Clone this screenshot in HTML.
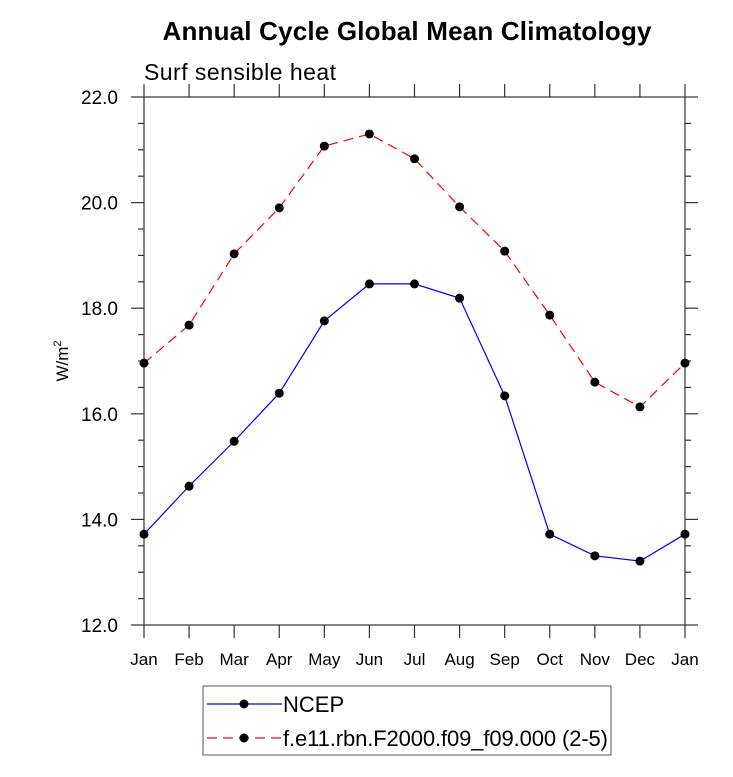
<!DOCTYPE html>
<html><head><meta charset="utf-8"><style>
body{margin:0;background:#fff;}
svg{display:block;font-family:"Liberation Sans",Arial,sans-serif;}
</style></head><body>
<svg id="chart" width="733" height="777" viewBox="0 0 733 777">
<text x="407" y="40" text-anchor="middle" font-size="26" font-weight="bold" textLength="489">Annual Cycle Global Mean Climatology</text>
<text x="144" y="80" font-size="23" textLength="192">Surf sensible heat</text>
<text transform="translate(68,361) rotate(-90)" text-anchor="middle" font-size="17">W/m<tspan font-size="11" dy="-7">2</tspan></text>
<g id="axes"></g>
<g id="series"></g>
<g>
<rect x="203" y="686" width="408" height="69" fill="none" stroke="#555" stroke-width="1"/>
<line x1="207" y1="704" x2="282" y2="704" stroke="#0000ff" stroke-width="1.2"/>
<circle cx="244" cy="704" r="4.5" fill="#000"/>
<text x="283" y="712" font-size="22">NCEP</text>
<line x1="207" y1="738" x2="282" y2="738" stroke="#ff0000" stroke-width="1.2" stroke-dasharray="10,6"/>
<circle cx="244" cy="738" r="4.5" fill="#000"/>
<text x="283" y="746" font-size="22" textLength="325">f.e11.rbn.F2000.f09_f09.000 (2-5)</text>
</g>
</svg>
<script>
const months = ["Jan","Feb","Mar","Apr","May","Jun","Jul","Aug","Sep","Oct","Nov","Dec","Jan"];
const ncep = [13.72,14.63,15.48,16.39,17.76,18.46,18.46,18.19,16.34,13.72,13.31,13.21,13.72];
const model = [16.96,17.68,19.03,19.90,21.07,21.30,20.83,19.92,19.08,17.87,16.60,16.13,16.96];
const yTicks = [12,14,16,18,20,22];
const yTickLabels = ["12.0","14.0","16.0","18.0","20.0","22.0"];

const L=144,R=685,T=97,B=625,ymin=12,ymax=22;
const xs=i=>L+i*(R-L)/(months.length-1);
const ys=v=>B-(v-ymin)/(ymax-ymin)*(B-T);
const NS="http://www.w3.org/2000/svg";
function mk(tag,attrs,parent){const e=document.createElementNS(NS,tag);for(const k in attrs)e.setAttribute(k,attrs[k]);parent.appendChild(e);return e;}
const ax=document.getElementById('axes');
const frame=mk('rect',{x:L,y:T,width:R-L,height:B-T,fill:'none',stroke:'#333','stroke-width':1.2},ax);


for(let v=ymin;v<=ymax+1e-9;v+=0.5){
  const major=Math.abs(v-Math.round(v/2)*2)<1e-9;const len=major?13:6;const y=ys(v);
  mk('line',{x1:L-len,y1:y,x2:L,y2:y,stroke:'#333','stroke-width':1.2},ax);
  mk('line',{x1:R,y1:y,x2:R+len,y2:y,stroke:'#333','stroke-width':1.2},ax);
}
yTicks.forEach((v,i)=>{
  const t=mk('text',{x:L-26,y:ys(v)+7,'text-anchor':'end','font-size':19},ax);
  t.textContent=yTickLabels[i];
  
  
});
months.forEach((m,i)=>{
  const x=xs(i);
  mk('line',{x1:x,y1:B,x2:x,y2:B+13,stroke:'#333','stroke-width':1.2},ax);
  mk('line',{x1:x,y1:T-13,x2:x,y2:T,stroke:'#333','stroke-width':1.2},ax);
  const t=mk('text',{x:x,y:B+40,'text-anchor':'middle','font-size':17},ax);
  t.textContent=m;
  
  
});
const sg=document.getElementById('series');
function series(data,color,dash,name){
  const pl=mk('polyline',{points:data.map((v,i)=>xs(i)+','+ys(v)).join(' '),fill:'none',stroke:color,'stroke-width':1.2,'stroke-dasharray':dash},sg);
  
  
  data.forEach((v,i)=>{
    const c=mk('circle',{cx:xs(i),cy:ys(v),r:4.5,fill:'#000'},sg);
    
    
  });
}
series(model,'#ff0000','10,6','model');
series(ncep,'#0000ff','none','ncep');
</script>
</body></html>
